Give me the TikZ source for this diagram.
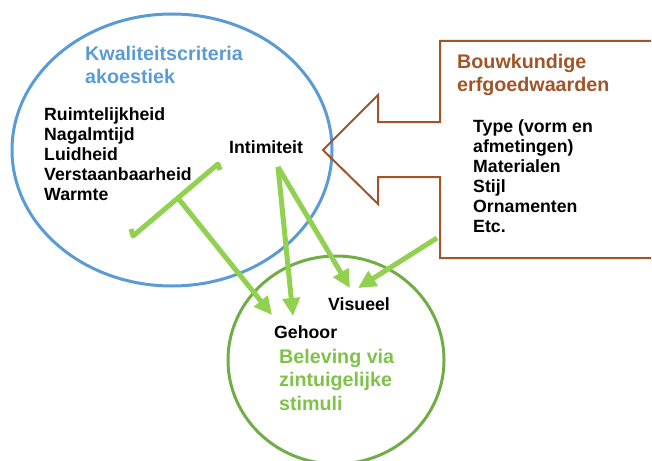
\documentclass[tikz,border=0pt]{standalone}
\usepackage{fontspec}
\setmainfont{Liberation Sans}
\usetikzlibrary{arrows.meta, positioning, calc}
\definecolor{akblue}{RGB}{91,155,213}
\definecolor{erfbrown}{RGB}{160,84,40}
\definecolor{sensegreen}{RGB}{112,173,71}
\definecolor{textgreen}{RGB}{128,194,72}
\definecolor{arrowgreen}{RGB}{146,208,80}

\begin{document}
\begin{tikzpicture}
  [
    x=1pt, y=-1pt,
    Title/.style={anchor=north west, align=left, inner sep=0pt, font=\bfseries\fontsize{19.7}{23.5}\selectfont},
    List/.style={anchor=north west, align=left, inner sep=0pt, font=\bfseries\fontsize{17.7}{20}\selectfont},
    Word/.style={anchor=base west, inner sep=0pt, font=\bfseries\fontsize{17.7}{20}\selectfont},
    Sense/.style={draw=arrowgreen, line width=5pt, -{Triangle[length=18pt, width=17pt]}},
    Bracket/.style={draw=arrowgreen, line width=5pt, line join=round}
  ]
  \useasboundingbox (0,0) rectangle (652,460);

  % Shapes
  \draw[akblue, line width=3pt] (172,150) ellipse [x radius=160pt, y radius=136pt];
  \draw[sensegreen, line width=3pt] (336,360) ellipse [x radius=108pt, y radius=104pt];
  \draw[erfbrown, line width=2pt]
    (651,41) -- (440,41) -- (440,122) -- (378,122) -- (378,95) -- (323,150)
    -- (378,204) -- (378,177) -- (440,177) -- (440,258) -- (651,258);

  % Nodes
  \node[Title, text=akblue] (akoestiek) at (85,46) {Kwaliteitscriteria\\akoestiek};
  \node[List] (criteria) at (44,107) {Ruimtelijkheid\\Nagalmtijd\\Luidheid\\Verstaanbaarheid\\Warmte};
  \node[Word] (intim) at (229,153) {Intimiteit};

  \node[Title, text=erfbrown] (erfgoed) at (457,54) {Bouwkundige\\erfgoedwaarden};
  \node[List] (waarden) at (473,119) {Type (vorm en\\afmetingen)\\Materialen\\Stijl\\Ornamenten\\Etc.};

  \node[Word] (visueel) at (328,310) {Visueel};
  \node[Word] (gehoor) at (274,338) {Gehoor};
  \node[Title, text=textgreen] (beleving) at (279,349) {Beleving via\\zintuigelijke\\stimuli};

  % Coordinates
  \coordinate (barR) at (218,164);
  \coordinate (barL) at (133,236);
  \coordinate (barM) at (178,198);
  \coordinate (apex) at (278,167);
  \coordinate (boxout) at (437,238);
  \coordinate (toGehoorA) at (272,315);
  \coordinate (toGehoorB) at (293,316);
  \coordinate (toVisueelA) at (350,288);
  \coordinate (toVisueelB) at (358,288);

  % Lines
  \path[Bracket] ($(barR)+(2,6)$) -- (barR) -- (barL) -- ($(barL)+(-2,-7)$);
  \path[Sense] (barM) -- (toGehoorA);
  \path[Sense] (apex) -- (toGehoorB);
  \path[Sense] (apex) -- (toVisueelA);
  \path[Sense] (boxout) -- (toVisueelB);
\end{tikzpicture}
\end{document}
